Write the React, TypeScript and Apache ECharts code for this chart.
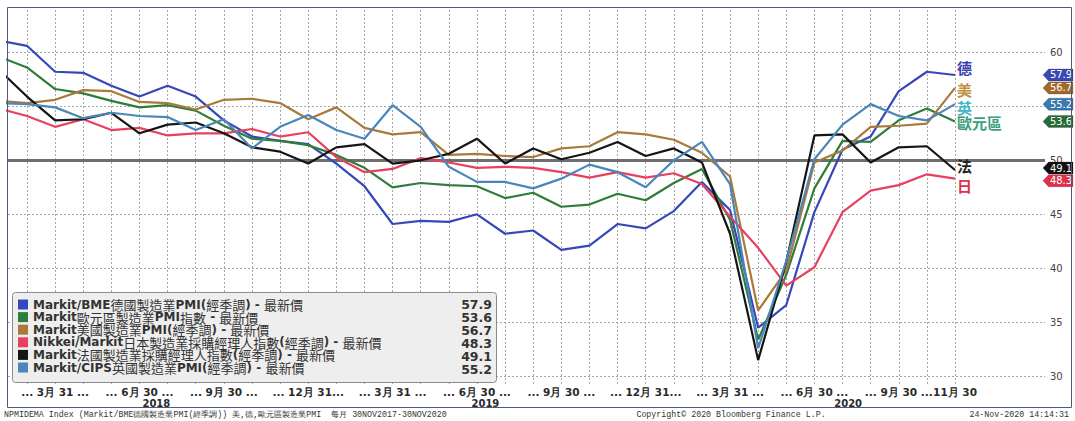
import React, { useEffect, useRef } from 'react';
import * as echarts from 'echarts';

// Monthly manufacturing PMI, Jan 2018 (index 0) to Nov 2020 (index 34)
const germany = [61.1, 60.6, 58.2, 58.1, 56.9, 55.9, 56.9, 55.9, 53.7, 52.2, 51.8, 51.5, 49.7, 47.6, 44.1, 44.4, 44.3, 45.0, 43.2, 43.5, 41.7, 42.1, 44.1, 43.7, 45.3, 48.0, 45.4, 34.5, 36.6, 45.2, 51.0, 52.2, 56.4, 58.2, 57.9];
const eurozone = [59.6, 58.6, 56.6, 56.2, 55.5, 54.9, 55.1, 54.6, 53.2, 52.0, 51.8, 51.4, 50.5, 49.3, 47.5, 47.9, 47.7, 47.6, 46.5, 47.0, 45.7, 45.9, 46.9, 46.3, 47.9, 49.2, 44.5, 33.4, 39.4, 47.4, 51.8, 51.7, 53.7, 54.8, 53.6];
const us = [55.5, 55.3, 55.6, 56.5, 56.4, 55.4, 55.3, 54.7, 55.6, 55.7, 55.3, 53.8, 54.9, 53.0, 52.4, 52.6, 50.5, 50.6, 50.4, 50.3, 51.1, 51.3, 52.6, 52.4, 51.9, 50.7, 48.5, 36.1, 39.8, 49.8, 50.9, 53.1, 53.2, 53.4, 56.7];
const japan = [54.8, 54.1, 53.1, 53.8, 52.8, 53.0, 52.3, 52.5, 52.5, 52.9, 52.2, 52.6, 50.3, 48.9, 49.2, 50.2, 49.8, 49.3, 49.4, 49.3, 48.9, 48.4, 48.9, 48.4, 48.8, 47.8, 44.8, 41.9, 38.4, 40.1, 45.2, 47.2, 47.7, 48.7, 48.3];
const france = [58.4, 55.9, 53.7, 53.8, 54.4, 52.5, 53.3, 53.5, 52.5, 51.2, 50.8, 49.7, 51.2, 51.5, 49.7, 50.0, 50.6, 52.0, 49.7, 51.1, 50.1, 50.7, 51.7, 50.4, 51.1, 49.8, 43.2, 31.5, 40.6, 52.3, 52.4, 49.8, 51.2, 51.3, 49.1];
const uk = [55.3, 55.2, 54.9, 53.9, 54.4, 54.1, 54.0, 52.8, 53.8, 51.1, 53.1, 54.2, 52.8, 52.0, 55.1, 53.1, 49.4, 48.0, 48.0, 47.4, 48.3, 49.6, 48.9, 47.5, 50.0, 51.7, 47.8, 32.6, 40.7, 50.1, 53.3, 55.2, 54.1, 53.7, 55.2];

const seriesValues = [germany, eurozone, us, japan, france, uk];
const seriesNames = [
  'Markit/BME德國製造業PMI(經季調) - 最新價',
  'Markit歐元區製造業PMI指數 - 最新價',
  'Markit美國製造業PMI(經季調) - 最新價',
  'Nikkei/Markit日本製造業採購經理人指數(經季調) - 最新價',
  'Markit法國製造業採購經理人指數(經季調) - 最新價',
  'Markit/CIPS英國製造業PMI(經季調) - 最新價',
];
const shortNames = ['德', '歐元區', '美', '日', '法', '英'];

// x-axis: month index of each quarter-end label, plus the final month
const tickMonths = [2, 5, 8, 11, 14, 17, 20, 23, 26, 29, 32, 34];
const tickLabels = [
  '... 3月 31 ...', '... 6月 30 ...', '... 9月 30 ...', '... 12月 31...',
  '... 3月 31 ...', '... 6月 30 ...', '... 9月 30 ...', '... 12月 31...',
  '... 3月 31 ...', '... 6月 30 ...', '... 9月 30 ...', '11月 30',
];
const yearPositions = [5.6, 17.3, 30.2];
const yearLabels = ['2018', '2019', '2020'];
const gridMonths = Array.from({ length: 34 }, (_, k) => k + 1);
const yGridValues = [30, 35, 40, 45, 55, 60];
const yLabelValues = [30, 35, 40, 45, 50, 60];

const lineColors = ['#3448ba', '#2f7d3a', '#a97a3a', '#e8405e', '#151515', '#4a86bb'];
const endLabelColors = ['#3b40b0', '#3aa07a', '#c09040', '#e03048', '#222222', '#40b4c8'];
const endLabelOffsets = [[0, -7], [0, 1], [0, 2], [0, 7], [0, -5], [0, 3]];
const tagColors = ['#3a48b0', '#2a6a35', '#a06a2a', '#e0304a', '#111111', '#3a78b0'];
const tagShift = [0, 0, 0, 2, -2, 0];
const tagZ = [6, 6, 6, 8, 7, 6];

const X_MIN = 0.3243;
const X_MAX = 37.2;
const Y_MIN = 29.29;
const Y_MAX = 64.1;

const CJK = /[\u3400-\u9fff]/;
function richName(name: string): string {
  const runs = name.match(/[\u3400-\u9fff]+|[^\u3400-\u9fff]+/g) || [];
  return runs.map((r) => (CJK.test(r) ? `{c|${r}}` : `{l|${r}}`)).join('');
}

export default function App() {
  const ref = useRef<HTMLDivElement>(null);

  useEffect(() => {
    if (!ref.current) return;
    const chart = echarts.init(ref.current, null, { renderer: 'svg' });

    const lastValues = seriesValues.map((s) => s[s.length - 1]);

    const lineSeries = seriesValues.map((vals, k) => ({
      name: seriesNames[k],
      type: 'line',
      data: vals.map((v, i) => [i, v]),
      color: lineColors[k],
      symbol: 'none',
      clip: true,
      silent: true,
      z: 2,
      lineStyle: { width: 2.2, color: lineColors[k] },
      itemStyle: { color: lineColors[k] },
      endLabel: {
        show: true,
        formatter: shortNames[k],
        color: endLabelColors[k],
        fontSize: 15,
        fontWeight: 'bold',
        fontFamily: 'Noto Sans CJK TC',
        distance: 2,
        offset: endLabelOffsets[k],
      },
      markPoint: {
        z: tagZ[k],
        silent: true,
        symbol: 'path://M0,6L6,0L32,0L32,12L6,12Z',
        symbolSize: [30, 12],
        symbolOffset: [103, tagShift[k]],
        itemStyle: { color: tagColors[k], borderColor: 'rgba(0,0,0,0.35)', borderWidth: 0.5 },
        label: {
          show: true,
          position: 'inside',
          formatter: String(lastValues[k]),
          color: '#ffffff',
          fontSize: 10,
          fontFamily: 'DejaVu Sans',
          offset: [3, 0],
        },
        data: [{ coord: [34, lastValues[k]], value: lastValues[k] }],
      },
    }));

    // carrier for the dotted grid and the 50 reference line (its own line is invisible)
    const gridSeries = {
      name: 'grid',
      type: 'line',
      data: germany.map((v, i) => [i, v]),
      symbol: 'none',
      silent: true,
      z: 1,
      lineStyle: { opacity: 0 },
      markLine: {
        z: 1,
        silent: true,
        symbol: ['none', 'none'],
        label: { show: false },
        lineStyle: { color: '#a6a6a6', type: [2, 2], width: 1 },
        data: [
          ...gridMonths.map((m) => ({ xAxis: m })),
          ...yGridValues.map((v) => ({ yAxis: v })),
          { yAxis: 50, lineStyle: { color: '#6e6e6e', type: 'solid', width: 3 } },
        ],
      },
    };

    const legendRich = {
      l: { fontFamily: 'DejaVu Sans', fontSize: 12, fontWeight: 'bold', color: '#333333', lineHeight: 13 },
      c: { fontFamily: 'Noto Sans CJK TC', fontSize: 13, color: '#333333', lineHeight: 13 },
    };

    chart.setOption({
      animation: false,
      backgroundColor: '#ffffff',
      grid: { left: 8, right: 30, top: 8, bottom: 37 },
      xAxis: [
        {
          type: 'value',
          min: X_MIN,
          max: X_MAX,
          axisLine: { show: false },
          axisTick: { show: false },
          splitLine: { show: false },
          axisLabel: {
            customValues: tickMonths,
            hideOverlap: false,
            margin: 2,
            fontFamily: 'DejaVu Sans',
            fontSize: 10.5,
            fontWeight: 'bold',
            color: '#2a2a2a',
            formatter: (v: number) => {
              const k = tickMonths.indexOf(v);
              return k >= 0 ? tickLabels[k] : '';
            },
          },
        },
        {
          type: 'value',
          position: 'bottom',
          min: X_MIN,
          max: X_MAX,
          axisLine: { show: false },
          axisTick: { show: false },
          splitLine: { show: false },
          axisLabel: {
            customValues: yearPositions,
            hideOverlap: false,
            margin: 14,
            fontFamily: 'DejaVu Sans',
            fontSize: 10,
            fontWeight: 'bold',
            color: '#2a2a2a',
            formatter: (v: number) => {
              const k = yearPositions.indexOf(v);
              return k >= 0 ? yearLabels[k] : '';
            },
          },
        },
      ],
      yAxis: {
        type: 'value',
        position: 'right',
        min: Y_MIN,
        max: Y_MAX,
        axisLine: { show: false },
        axisTick: { show: false },
        splitLine: { show: false },
        axisLabel: {
          customValues: yLabelValues,
          hideOverlap: false,
          margin: 5,
          fontFamily: 'DejaVu Sans',
          fontSize: 10,
          color: '#444444',
        },
      },
      legend: [
        {
          data: seriesNames,
          orient: 'vertical',
          left: 18,
          top: 298,
          padding: 0,
          z: 5,
          icon: 'rect',
          itemWidth: 10,
          itemHeight: 10,
          itemGap: -0.4,
          selectedMode: false,
          formatter: (name: string) => richName(name),
          textStyle: { rich: legendRich, lineHeight: 13 },
        },
        {
          data: seriesNames,
          orient: 'vertical',
          left: 451,
          top: 298,
          padding: 0,
          z: 5,
          icon: 'rect',
          itemWidth: 0,
          itemHeight: 0,
          itemGap: 0,
          selectedMode: false,
          formatter: (name: string) => `{v|${lastValues[seriesNames.indexOf(name)]}}`,
          textStyle: {
            rich: {
              v: {
                fontFamily: 'DejaVu Sans',
                fontSize: 12.5,
                fontWeight: 'bold',
                color: '#333333',
                width: 36,
                align: 'right',
                lineHeight: 13,
              },
            },
            lineHeight: 13,
          },
        },
      ],
      graphic: [
        {
          type: 'rect',
          z: 3,
          silent: true,
          shape: { x: 12.5, y: 292.5, width: 484, height: 90, r: 3 },
          style: { fill: '#eeeeee', stroke: '#8c8c8c', lineWidth: 1 },
        },
        {
          type: 'rect',
          z: 10,
          silent: true,
          shape: { x: 7.5, y: 7.5, width: 1064, height: 400 },
          style: { fill: 'none', stroke: '#4b5a7d', lineWidth: 1 },
        },
        {
          type: 'text',
          z: 10,
          silent: true,
          x: 4,
          y: 414,
          style: {
            text: 'NPMIDEMA Index (Markit/BME德國製造業PMI(經季調)) 美,德,歐元區製造業PMI  每月 30NOV2017-30NOV2020',
            fontFamily: 'Liberation Mono',
            fontSize: 8.3,
            fill: '#333333',
            verticalAlign: 'middle',
          },
        },
        {
          type: 'text',
          z: 10,
          silent: true,
          x: 731,
          y: 414,
          style: {
            text: 'Copyright© 2020 Bloomberg Finance L.P.',
            fontFamily: 'Liberation Mono',
            fontSize: 8.3,
            fill: '#333333',
            align: 'center',
            verticalAlign: 'middle',
          },
        },
        {
          type: 'text',
          z: 10,
          silent: true,
          x: 1069,
          y: 414,
          style: {
            text: '24-Nov-2020 14:14:31',
            fontFamily: 'Liberation Mono',
            fontSize: 8.3,
            fill: '#333333',
            align: 'right',
            verticalAlign: 'middle',
          },
        },
      ],
      series: [gridSeries, ...lineSeries],
    });

    return () => chart.dispose();
  }, []);

  return (
    <div
      ref={ref}
      style={{ position: 'absolute', left: 0, top: 0, width: 1075, height: 421, background: '#fff' }}
    />
  );
}
